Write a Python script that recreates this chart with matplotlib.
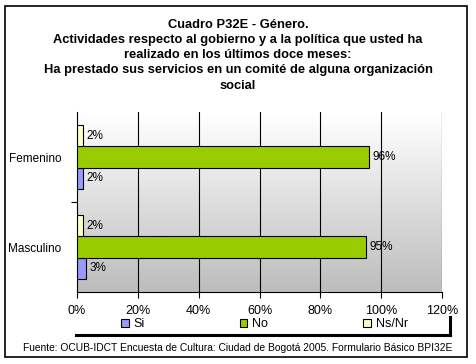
import numpy as np
import matplotlib.pyplot as plt
from matplotlib.patches import Rectangle
from matplotlib.lines import Line2D

plt.rcParams['font.family'] = ['Liberation Sans', 'DejaVu Sans']

categories = ['Masculino', 'Femenino']
si = [3, 2]
no = [95, 96]
nsnr = [2, 2]
series = ['Si', 'No', 'Ns/Nr']
colors = ['#9999FF', '#99CC00', '#FFFFCC']
xticks = [0, 20, 40, 60, 80, 100, 120]

title = ("Cuadro P32E - Género.\n"
         "Actividades respecto al gobierno y a la política que usted ha\n"
         "realizado en los últimos doce meses:\n"
         "Ha prestado sus servicios en un comité de alguna organización\n"
         "social")
source = "Fuente: OCUB-IDCT Encuesta de Cultura: Ciudad de Bogotá 2005. Formulario Básico BPI32E"

W, H = 476, 364
fig = plt.figure(figsize=(W / 100, H / 100), dpi=100)

# outer frame
fig.patches.append(Rectangle((5 / W, 1 - 357 / H), 462 / W, 351 / H, transform=fig.transFigure,
                             fill=False, edgecolor='black', linewidth=1.2))

ax = fig.add_axes([77 / W, 1 - 292 / H, 365 / W, 180 / H])

# gradient background white -> grey
grad = np.linspace(1.0, 0.74, 256).reshape(-1, 1)
ax.imshow(grad, cmap='gray', vmin=0, vmax=1, aspect='auto', extent=[0, 1, 0, 1],
          transform=ax.transAxes, zorder=0)

y = np.arange(len(categories))
h = 0.235
vals = [si, no, nsnr]
offsets = [-h, 0, h]
handles = []
for s, v, c, off in zip(series, vals, colors, offsets):
    b = ax.barh(y + off, v, height=h, color=c, edgecolor='black', linewidth=0.8, label=s, zorder=3)
    handles.append(b)
    for yi, vi in zip(y, v):
        ax.text(vi + 1.2, yi + off, f"{vi}%", va='center', ha='left', fontsize=8.5, zorder=4)

ax.set_xlim(0, 120)
ax.set_ylim(-0.5, 1.5)
ax.set_xticks(xticks)
ax.set_xticklabels([f"{t}%" for t in xticks], fontsize=9)
ax.set_yticks(y)
ax.set_yticklabels(categories, fontsize=8.5)
ax.set_yticks([0.5], minor=True)
ax.tick_params(axis='y', which='major', length=0, pad=11)
ax.tick_params(axis='y', which='minor', length=4, direction='out', width=0.8)
ax.tick_params(axis='x', length=4, direction='out', width=0.8, pad=5)
for xv in xticks[1:]:
    ax.axvline(xv, color='black', linewidth=0.8, zorder=1)
for sp in ['top', 'right']:
    ax.spines[sp].set_visible(False)
ax.spines['left'].set_linewidth(0.8)
ax.spines['bottom'].set_linewidth(0.8)

fig.text(0.5, 1 - 18.5 / H, title, ha='center', va='top', fontsize=9.3, fontweight='bold',
         linespacing=1.37)

leg = fig.legend(handles=handles, labels=series, loc='center left', ncol=3,
                 bbox_to_anchor=(121 / W, 1 - 324 / H), frameon=False, fontsize=9,
                 handlelength=0.6, handleheight=0.6, handletextpad=0.4, columnspacing=7.6,
                 borderaxespad=0, borderpad=0)
# legend shadow lines
fig.lines.append(Line2D([76 / W, 450 / W], [1 - 335 / H, 1 - 335 / H], transform=fig.transFigure,
                        color='black', linewidth=2.2))
fig.lines.append(Line2D([449.5 / W, 449.5 / W], [1 - 335 / H, 1 - 317 / H], transform=fig.transFigure,
                        color='black', linewidth=2.2))

fig.text(0.5, 1 - 348 / H, source, ha='center', va='center', fontsize=7.4)

fig.savefig('out.png', dpi=100)
